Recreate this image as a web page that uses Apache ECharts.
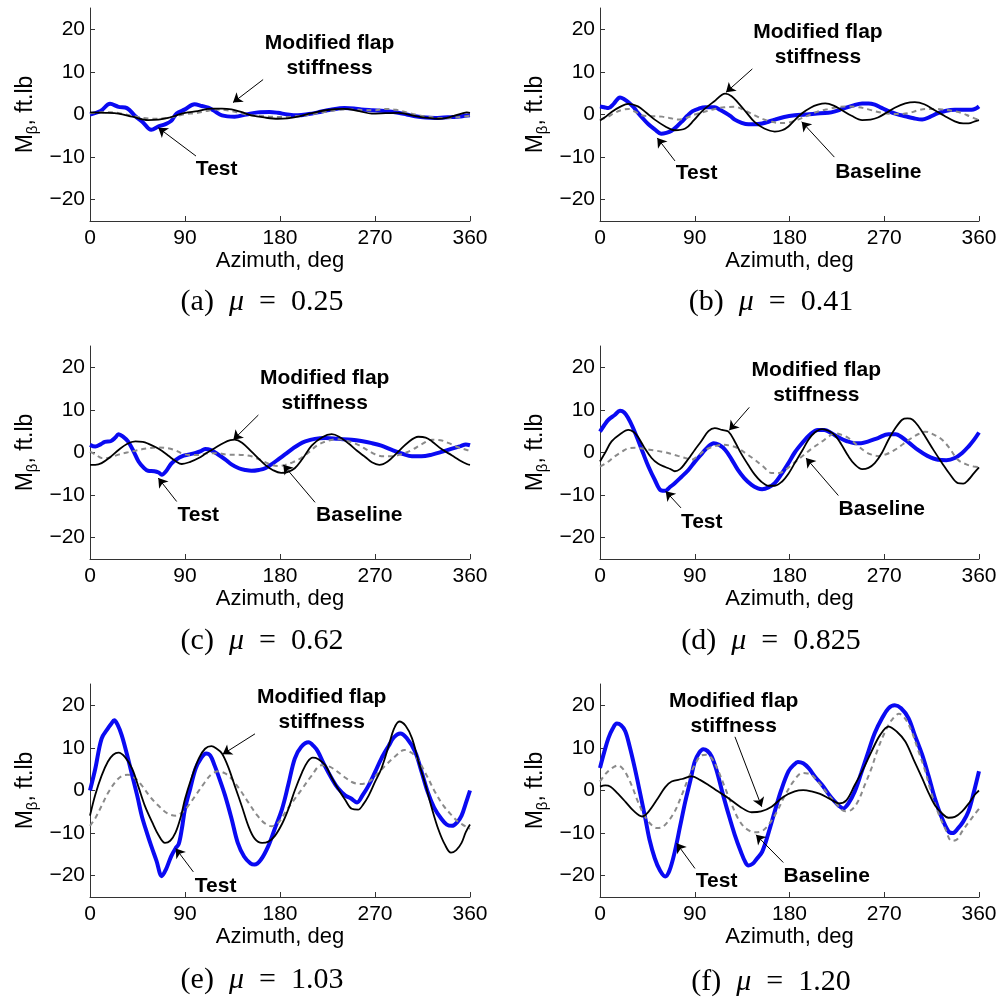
<!DOCTYPE html>
<html><head><meta charset="utf-8">
<script src="https://cdn.jsdelivr.net/npm/echarts@6/dist/echarts.min.js"></script>
<style>html,body{margin:0;padding:0;background:#fff}#c{width:1004px;height:998px}</style>
</head><body><div id="c"></div>
<script>
// ---------- DATA: [azimuth deg, M_beta ft.lb] ----------
const xTicks = [0, 90, 180, 270, 360];
const yTicks = [-20, -10, 0, 10, 20];

const testA = [[0,0],[10,0.8],[19,2.5],[27,1.8],[35,1.5],[43,-0.4],[50,-1.8],[58,-3.6],[65,-2.8],[71,-2.3],[77,-1.5],[82,0.2],[90,1.2],[99,2.4],[106,2.0],[112,1.6],[118,0.8],[125,-0.2],[137,-0.5],[148,0.0],[159,0.5],[170,0.6],[178,0.4],[187,0.0],[197,-0.2],[207,0.1],[216,0.5],[228,1.1],[241,1.5],[250,1.4],[257,1.2],[268,1.0],[279,0.8],[292,0.4],[300,0],[308,-0.4],[318,-0.7],[327,-0.8],[335,-0.7],[343,-0.6],[350,-0.5],[355,-0.3],[360,-0.2]];
const modA = [[0,0.5],[15,0.4],[27,0.2],[40,-0.5],[55,-1.3],[65,-1.2],[74,-0.8],[82,-0.2],[90,0.4],[102,0.8],[115,1.4],[125,1.4],[134,1.2],[143,0.6],[153,-0.2],[165,-0.7],[178,-1.0],[187,-0.9],[197,-0.5],[210,0.3],[223,1.0],[241,1.3],[255,0.8],[267,0.2],[280,0.3],[292,0.4],[300,0.1],[311,-0.5],[320,-0.8],[330,-1.0],[338,-0.8],[346,-0.2],[352,0.2],[357,0.5],[360,0.4]];
const baseA = [[0,0.3],[10,0.5],[20,0.5],[30,0.2],[40,-0.3],[50,-0.8],[60,-1.0],[70,-0.9],[80,-0.5],[90,0.1],[100,0.3],[110,0.8],[120,1.2],[130,1.0],[140,0.5],[150,-0.1],[160,-0.3],[170,-0.5],[180,-0.6],[190,-0.5],[200,-0.3],[210,0.1],[220,0.5],[230,0.9],[240,1.2],[250,1.2],[260,1.0],[270,1.0],[280,1.3],[290,1.1],[300,0.5],[310,-0.1],[320,-0.5],[330,-0.8],[340,-0.8],[350,-0.6],[360,-0.3]];

const testB = [[0,1.9],[4,1.7],[8,1.5],[13,2.5],[19,4.0],[23,3.6],[27,2.9],[32,1.7],[36,0.4],[41,-1.0],[46,-2.3],[52,-3.5],[58,-4.5],[63,-4.3],[68,-3.8],[73,-2.8],[78,-1.6],[83,-0.3],[88,0.8],[94,1.4],[100,1.7],[109,1.7],[114,1.1],[119,0.4],[124,-0.4],[128,-1.2],[134,-1.9],[141,-2.3],[147,-2.3],[154,-2.1],[160,-1.7],[166,-1.2],[175,-0.6],[185,-0.2],[195,0.0],[204,0.2],[217,0.4],[224,0.8],[230,1.3],[240,2.1],[249,2.6],[255,2.6],[261,2.3],[267,1.6],[274,0.8],[282,0.1],[290,-0.4],[298,-0.9],[306,-1.2],[313,-0.6],[321,0.3],[329,0.9],[337,1.1],[345,1.1],[353,1.1],[357,1.4],[360,1.9]];
const modB = [[0,-1.4],[5,-0.6],[11,0.6],[19,1.8],[27,2.5],[36,1.9],[44,0.4],[52,-1.2],[62,-2.8],[71,-3.7],[81,-3.3],[89,-1.4],[97,0.8],[108,3.0],[119,4.9],[125,4.3],[131,2.8],[139,0.5],[147,-1.8],[156,-3.3],[166,-4.0],[173,-3.7],[179,-2.8],[185,-1.3],[192,0.3],[200,1.6],[207,2.3],[214,2.6],[222,2.1],[230,1.0],[239,-0.3],[249,-1.3],[257,-1.2],[264,-0.7],[272,0.4],[280,1.6],[290,2.6],[299,2.9],[308,2.4],[318,1.0],[327,-0.3],[337,-1.6],[345,-2.1],[350,-2.1],[356,-1.6],[360,-1.3]];
const baseB = [[0,-1.2],[7,-0.6],[14,0.4],[21,1.1],[27,1.3],[33,0.7],[40,-0.2],[50,-0.4],[59,-0.5],[66,-0.8],[74,-1.2],[82,-0.8],[90,0.0],[100,0.7],[109,1.3],[118,1.7],[128,1.8],[138,0.9],[147,-0.2],[155,-1.1],[163,-1.7],[171,-2.0],[179,-1.9],[188,-1.2],[198,-0.2],[207,0.7],[217,1.3],[227,1.8],[236,1.9],[246,1.7],[255,1.2],[264,0.6],[274,0.2],[283,0.1],[293,0.3],[301,0.9],[309,1.3],[317,1.3],[325,1.2],[334,0.9],[343,0.4],[351,-0.4],[358,-1.1],[360,-1.2]];

const testC = [[0,1.8],[5,1.4],[10,1.9],[14,2.5],[20,2.7],[24,3.5],[27,4.3],[31,3.8],[36,2.6],[41,0.4],[46,-2.1],[51,-3.6],[55,-4.3],[61,-4.4],[65,-4.7],[68,-5.2],[72,-4.4],[77,-2.6],[82,-1.6],[87,-0.9],[93,-0.5],[100,-0.1],[105,0.3],[109,0.8],[114,0.6],[121,-0.4],[128,-1.6],[134,-2.8],[141,-3.7],[147,-4.1],[153,-4.3],[160,-4.1],[166,-3.7],[173,-2.6],[179,-1.5],[185,-0.4],[192,0.9],[198,1.9],[204,2.6],[213,3.2],[223,3.4],[235,3.2],[248,3.0],[257,2.7],[267,2.2],[276,1.6],[286,0.6],[296,-0.3],[305,-0.9],[314,-0.9],[324,-0.5],[334,0.2],[343,0.9],[351,1.5],[356,1.9],[360,1.7]];
const modC = [[0,-2.9],[5,-2.9],[11,-2.5],[19,-1.1],[27,0.6],[35,2.0],[43,2.6],[50,2.5],[55,2.1],[62,1.3],[68,0.4],[75,-0.9],[81,-2.0],[87,-2.7],[95,-2.2],[103,-1.3],[110,-0.2],[118,1.0],[127,2.3],[133,2.9],[137,3.0],[144,2.3],[153,0.2],[160,-1.5],[166,-2.9],[173,-4.1],[181,-4.8],[187,-4.6],[194,-3.7],[201,-1.6],[210,1.6],[220,3.6],[229,4.3],[236,3.7],[245,2.1],[253,0.4],[261,-1.1],[267,-2.3],[274,-2.9],[282,-2.1],[292,0.2],[301,2.3],[311,3.7],[318,3.5],[324,2.6],[333,0.8],[343,-0.7],[350,-1.8],[357,-2.7],[360,-2.9]];
const baseC = [[0,0.2],[6,-0.6],[11,-1.3],[18,-1.2],[27,-0.5],[35,0.0],[43,0.4],[50,0.8],[55,1.0],[64,1.2],[74,1.0],[81,0.5],[88,-0.3],[95,-0.6],[103,-0.6],[112,-0.2],[122,-0.2],[130,-0.5],[137,-0.5],[145,-0.6],[153,-0.9],[162,-1.8],[172,-2.9],[179,-3.2],[185,-2.9],[192,-2.3],[200,-1.3],[208,0.2],[216,1.8],[226,2.8],[235,3.1],[244,2.7],[254,1.8],[262,0.7],[270,-0.4],[278,-0.9],[286,-0.9],[295,-0.4],[305,0.6],[314,1.9],[324,3.0],[332,2.9],[340,2.2],[348,1.3],[357,0.6],[360,0.4]];

const testD = [[0,4.9],[4,6.4],[8,7.7],[14,8.8],[19,9.8],[23,9.4],[27,8.0],[31,6.0],[36,3.0],[41,-0.2],[46,-3.3],[52,-6.4],[58,-8.9],[62,-9.0],[66,-8.2],[71,-7.2],[77,-5.8],[84,-4.1],[90,-2.2],[97,-0.2],[102,1.2],[108,2.2],[113,1.8],[119,0.6],[125,-1.6],[131,-4.1],[137,-6.0],[144,-7.6],[150,-8.4],[154,-8.6],[160,-8.2],[166,-7.2],[172,-5.2],[179,-2.5],[185,0.0],[192,2.2],[199,4.1],[207,5.3],[213,5.3],[220,4.5],[227,3.5],[234,2.7],[242,2.2],[248,2.2],[255,2.6],[264,3.4],[274,4.3],[281,4.3],[286,3.7],[294,2.2],[302,0.6],[311,-0.8],[321,-1.7],[329,-1.8],[337,-1.3],[344,-0.1],[350,1.4],[355,2.9],[360,4.7]];
const modD = [[0,-2.1],[5,0.0],[11,2.6],[19,4.3],[27,5.3],[32,4.8],[36,3.7],[42,1.2],[49,-1.3],[55,-2.6],[62,-3.4],[67,-3.9],[71,-4.4],[76,-3.9],[81,-2.5],[86,-0.8],[90,0.6],[96,2.6],[103,5.0],[109,5.7],[116,5.3],[122,4.9],[128,2.6],[134,-0.2],[141,-3.0],[147,-5.2],[153,-6.8],[160,-7.8],[166,-7.8],[173,-6.8],[179,-5.0],[185,-2.5],[192,0.4],[198,3.0],[204,4.7],[211,5.5],[217,5.1],[223,4.1],[229,2.0],[236,-0.9],[242,-2.8],[249,-3.9],[255,-3.6],[261,-2.5],[268,0.0],[274,3.0],[280,5.5],[287,7.7],[292,8.0],[297,7.7],[303,6.0],[309,3.7],[317,0.5],[325,-2.5],[332,-5.0],[340,-7.2],[345,-7.3],[350,-6.4],[355,-4.9],[360,-3.5]];
const baseD = [[0,-3.3],[7,-2.3],[14,-0.9],[21,0.2],[27,1.0],[35,1.1],[43,0.8],[51,0.5],[59,0.2],[67,-0.3],[74,-0.8],[81,-1.3],[87,-1.7],[93,-0.8],[100,0.6],[108,1.4],[116,1.8],[124,1.6],[131,1.0],[139,-0.3],[147,-1.7],[155,-3.3],[163,-4.8],[170,-4.8],[176,-4.1],[184,-2.5],[192,-0.9],[201,0.9],[211,2.6],[217,3.7],[223,4.5],[230,4.1],[236,3.4],[244,1.8],[252,0.2],[258,-0.5],[264,-0.8],[272,-0.4],[280,0.6],[288,2.0],[296,3.4],[303,4.4],[309,4.9],[317,4.2],[325,3.0],[332,1.0],[340,-1.7],[348,-2.8],[355,-3.3],[360,-3.4]];

const testE = [[0,0.0],[5,5.1],[11,12.2],[17,14.6],[20,15.6],[23,16.5],[26,15.5],[30,13.0],[35,8.5],[40,3.5],[45,-1.5],[49,-5.9],[54,-10],[58,-13],[63,-16.5],[68,-20.1],[72,-18.5],[77,-15.4],[81,-13.6],[84,-12.6],[87,-9],[90,-4.3],[95,0.5],[100,5.1],[105,7.5],[110,8.7],[114,8.2],[118,5.9],[123,2.5],[128,-1.2],[134,-6.5],[140,-12.3],[146,-15.5],[152,-17.1],[156,-17.4],[162,-16.2],[169,-13.0],[175,-9.0],[182,-4.3],[188,1.5],[194,7.5],[200,10.2],[207,11.3],[212,10.4],[216,9.1],[222,6.0],[229,2.8],[235,0.5],[242,-1.2],[247,-1.8],[253,-2.8],[258,-1.2],[264,1.2],[270,4.3],[276,7.5],[283,10.5],[288,12.5],[294,13.4],[300,12.3],[308,9.1],[314,4.5],[320,-0.4],[326,-4.0],[333,-6.7],[338,-8.0],[343,-8.3],[348,-7.4],[352,-5.9],[356,-3.0],[360,0.0]];
const modE = [[0,-5.9],[5,-1.0],[11,3.5],[17,6.8],[22,8.4],[27,8.9],[33,7.9],[40,5.1],[46,0.8],[52,-3.6],[59,-7.5],[65,-10.5],[71,-12.3],[76,-11.8],[81,-9.9],[86,-6.2],[90,-2.0],[96,2.8],[103,7.5],[109,9.8],[115,10.4],[120,9.8],[125,8.7],[131,5.5],[137,1.2],[144,-3.8],[150,-8.3],[156,-11.3],[163,-12.3],[169,-12.0],[175,-10.7],[182,-7.8],[188,-4.3],[194,0.0],[201,4.3],[206,6.7],[211,7.7],[216,7.4],[223,5.9],[229,3.0],[235,0.4],[242,-2.3],[248,-4.3],[254,-4.5],[259,-3.2],[264,-1.2],[270,2.0],[276,5.1],[283,10.5],[288,14.5],[293,16.2],[299,15.2],[305,12.3],[311,7.0],[318,1.2],[324,-4.3],[330,-9.1],[336,-12.6],[342,-14.6],[347,-14.0],[352,-12.3],[356,-9.8],[360,-8.0]];
const baseE = [[0,-8.3],[5,-6.5],[11,-3.6],[17,-0.6],[24,2.0],[30,3.4],[36,3.7],[43,2.8],[49,1.2],[57,-1.5],[65,-3.6],[73,-5.3],[81,-5.9],[87,-5.2],[93,-3.6],[101,-0.8],[109,2.0],[115,3.8],[122,4.5],[128,4.0],[134,2.8],[142,0.2],[150,-2.8],[158,-5.7],[165,-7.6],[172,-8.4],[179,-7.4],[185,-5.1],[193,-2.3],[201,0.4],[210,3.5],[219,5.9],[227,5.6],[235,4.3],[242,3.0],[248,2.0],[256,1.5],[264,2.0],[272,3.8],[280,5.9],[289,8.0],[298,9.5],[305,8.8],[311,7.1],[319,3.5],[327,-0.4],[335,-3.6],[343,-5.9],[349,-7.4],[355,-8.3],[360,-9.0]];

const testF = [[0,5.3],[4,9.0],[8,12.3],[12,14.5],[16,15.7],[20,15.3],[24,13.9],[28,10.5],[33,5.3],[38,-0.5],[43,-6.5],[47,-11.5],[52,-15.9],[57,-18.8],[62,-20.2],[66,-18.8],[71,-14.4],[76,-8.5],[81,-2.6],[86,2.5],[90,6.8],[94,8.8],[98,9.7],[102,9.3],[106,8.0],[111,4.5],[116,-0.2],[122,-5.5],[128,-10.4],[134,-14.5],[138,-16.8],[141,-17.6],[145,-17.2],[149,-16.0],[154,-14.4],[160,-10.0],[166,-4.9],[172,0.0],[179,4.5],[184,6.0],[188,6.7],[193,6.4],[198,5.3],[204,3.3],[211,1.3],[217,-0.8],[223,-2.6],[227,-3.6],[231,-4.2],[236,-3.0],[242,-0.2],[248,4.0],[255,9.2],[261,13.5],[268,17.0],[274,19.3],[280,20.0],[286,19.3],[293,17.0],[299,13.0],[306,8.4],[312,3.5],[318,-1.8],[324,-6.0],[331,-9.6],[335,-10.0],[340,-8.9],[345,-7.3],[350,-4.9],[355,-0.5],[360,4.5]];
const modF = [[0,0.9],[5,1.2],[10,0.9],[16,-0.5],[24,-2.6],[32,-4.8],[40,-6.1],[46,-5.0],[55,-1.8],[62,0.8],[68,2.1],[78,2.7],[87,3.3],[95,2.5],[103,1.3],[112,-0.2],[122,-1.8],[133,-3.8],[144,-5.1],[153,-4.9],[163,-3.8],[174,-1.5],[185,-0.2],[193,0.1],[201,-0.2],[209,-0.8],[217,-1.8],[222,-2.5],[227,-3.0],[234,-2.3],[242,1.3],[250,5.0],[258,9.2],[266,13.0],[274,15.0],[282,13.8],[290,11.5],[298,7.2],[306,2.9],[312,-0.5],[318,-3.4],[325,-5.4],[331,-6.4],[337,-6.2],[344,-4.9],[351,-2.8],[356,-1.0],[360,0.0]];
const baseF = [[0,2.1],[4,3.5],[8,4.6],[13,5.5],[17,5.9],[22,5.0],[27,2.9],[32,0.0],[36,-2.6],[42,-5.8],[49,-8.1],[54,-8.8],[58,-8.7],[64,-7.5],[71,-4.9],[77,-1.5],[84,2.9],[90,6.0],[96,8.2],[101,8.4],[106,7.6],[112,4.8],[119,0.5],[125,-3.2],[131,-6.5],[138,-8.8],[147,-9.8],[154,-9.5],[160,-8.1],[168,-5.0],[176,-1.0],[184,2.2],[192,4.1],[197,4.0],[201,3.7],[209,1.5],[217,-1.0],[225,-3.3],[233,-4.9],[239,-4.5],[245,-2.6],[251,1.0],[258,5.3],[264,9.8],[271,13.9],[277,16.5],[284,18.0],[290,16.8],[296,13.9],[302,9.6],[309,4.5],[315,-0.8],[322,-5.7],[328,-9.0],[334,-11.8],[339,-11.5],[344,-9.6],[350,-7.5],[355,-5.9],[360,-4.3]];

const captionLetters = ['a','b','c','d','e','f'];
const muValues = ['0.25','0.41','0.62','0.825','1.03','1.20'];

// annotations in data coordinates: text centre, arrow tail -> arrow head
const annotations = [
  [{t:'Modified flap\nstiffness', at:[227,13.9], from:[164,8.2], to:[135.5,2.8]},
   {t:'Test', at:[120,-12.9], from:[100.4,-9.75], to:[64.7,-3.1]}],
  [{t:'Modified flap\nstiffness', at:[207,16.4], from:[144.7,10.7], to:[119.7,5.2]},
   {t:'Test', at:[91.8,-13.8], from:[71.2,-10.9], to:[54.4,-5.5]},
   {t:'Baseline', at:[264.4,-13.5], from:[222.6,-10], to:[191.6,-1.7]}],
  [{t:'Modified flap\nstiffness', at:[222.3,14.6], from:[159.5,8.8], to:[135.8,3.0]},
   {t:'Test', at:[102.6,-14.75], from:[82.1,-11.5], to:[64.7,-6.0]},
   {t:'Baseline', at:[255.1,-14.75], from:[213.2,-11.7], to:[183.1,-2.9]}],
  [{t:'Modified flap\nstiffness', at:[205.5,16.4], from:[141.8,10.6], to:[122.8,5.2]},
   {t:'Test', at:[96.6,-16.4], from:[76.9,-13], to:[62.4,-9.1]},
   {t:'Baseline', at:[267.6,-13.4], from:[226.4,-10.1], to:[195.7,-1.3]}],
  [{t:'Modified flap\nstiffness', at:[219.5,19.0], from:[156.3,13.3], to:[125.7,8.5]},
   {t:'Test', at:[119,-22.4], from:[97.9,-19.1], to:[81.2,-13.6]}],
  [{t:'Modified flap\nstiffness', at:[127,18.1], from:[128.2,12.6], to:[153.6,-3.8]},
   {t:'Test', at:[110.8,-21.2], from:[90.2,-18.3], to:[72.8,-12.4]},
   {t:'Baseline', at:[215.3,-20.1], from:[174.1,-16.9], to:[148.2,-10.4]}]
];

const tests = [testA,testB,testC,testD,testE,testF];
const mods = [modA,modB,modC,modD,modE,modF];
const bases = [baseA,baseB,baseC,baseD,baseE,baseF];

// ---------- LAYOUT ----------
const boxes = [
  {left:90, top:8, width:380, height:213},
  {left:600, top:8, width:379, height:213},
  {left:90, top:346, width:380, height:213},
  {left:600, top:346, width:379, height:213},
  {left:90, top:684, width:380, height:213},
  {left:600, top:684, width:379, height:213}
];
const capPos = [[262,302],[771,302],[262,641],[771,641],[262,980],[771,982]];

const SANS = 'Liberation Sans, Arial, Helvetica, sans-serif';
const SERIF = 'Liberation Serif, Times New Roman, serif';

const grid = [], xAxis = [], yAxis = [], series = [], graphics = [];
boxes.forEach((b, i) => {
  grid.push({left:b.left, top:b.top, width:b.width, height:b.height, containLabel:false});
  xAxis.push({
    type:'value', gridIndex:i, min:0, max:360, interval:90,
    axisLine:{show:true, onZero:false, lineStyle:{color:'#333', width:1}},
    axisTick:{show:true, inside:true, length:5, lineStyle:{color:'#333'}},
    axisLabel:{fontSize:21, fontFamily:SANS, color:'#000', margin:7,
      customValues: xTicks},
    splitLine:{show:false},
    name:'Azimuth, deg', nameLocation:'middle', nameGap:26,
    nameTextStyle:{fontSize:22, fontFamily:SANS, color:'#000'}
  });
  yAxis.push({
    type:'value', gridIndex:i, min:-25, max:25,
    axisLine:{show:true, onZero:false, lineStyle:{color:'#333', width:1}},
    axisTick:{show:true, inside:true, length:5, lineStyle:{color:'#333'}, customValues: yTicks},
    axisLabel:{fontSize:21, fontFamily:SANS, color:'#000', margin:5, customValues: yTicks,
      formatter: v => (v < 0 ? '\u2212' + Math.abs(v) : String(v))},
    splitLine:{show:false},
    name:'{m|M}{s|\u03b2}{m|, ft.lb}', nameLocation:'middle', nameGap:50, nameRotate:90,
    nameTextStyle:{color:'#000', rich:{
      m:{fontSize:23, fontFamily:SANS, color:'#000', lineHeight:28},
      s:{fontSize:15, fontFamily:SANS, color:'#000', verticalAlign:'bottom', lineHeight:18}
    }}
  });
  const common = {type:'line', xAxisIndex:i, yAxisIndex:i, showSymbol:false, symbol:'none',
    smooth:0.35, animation:false, silent:true, clip:true};
  series.push(Object.assign({}, common, {name:'Test', data:tests[i], z:2,
    lineStyle:{color:'#0a0af2', width:4}}));
  series.push(Object.assign({}, common, {name:'Baseline', data:bases[i], z:3,
    lineStyle:{color:'#8a8a8a', width:2, type:[5,4]}}));
  const ann = annotations[i];
  series.push(Object.assign({}, common, {name:'Modified flap stiffness', data:mods[i], z:4,
    lineStyle:{color:'#000', width:1.8},
    markLine:{silent:true, animation:false, symbol:['none','arrow'], symbolSize:9,
      lineStyle:{color:'#000', width:1, type:'solid'}, label:{show:false},
      itemStyle:{color:'#000'},
      emphasis:{disabled:true},
      data: ann.map(a => [{coord:a.from, symbol:'none'}, {coord:a.to, symbol:'arrow', symbolSize:9}])},
    markPoint:{silent:true, animation:false, symbol:'rect', symbolSize:1,
      itemStyle:{color:'rgba(0,0,0,0)'},
      label:{show:true, position:'inside', fontSize:21, fontWeight:'bold', fontFamily:SANS,
        color:'#000', lineHeight:25, align:'center', verticalAlign:'middle'},
      data: ann.map(a => ({coord:a.at, value:a.t, label:{formatter:a.t}}))}
  }));
  graphics.push({
    type:'text', x:capPos[i][0], y:capPos[i][1], silent:true,
    style:{
      text:'{r|(' + captionLetters[i] + ')  }{i|\u03bc}{r|  =  ' + muValues[i] + '}',
      align:'center', verticalAlign:'middle',
      rich:{
        r:{fontSize:30, fontFamily:SERIF, fill:'#000'},
        i:{fontSize:30, fontFamily:SERIF, fontStyle:'italic', fill:'#000'}
      }
    }
  });
});

const chart = echarts.init(document.getElementById('c'), null, {renderer:'canvas'});
chart.setOption({
  animation:false,
  backgroundColor:'#fff',
  grid, xAxis, yAxis, series,
  graphic:{elements:graphics}
});
</script>
</body></html>
